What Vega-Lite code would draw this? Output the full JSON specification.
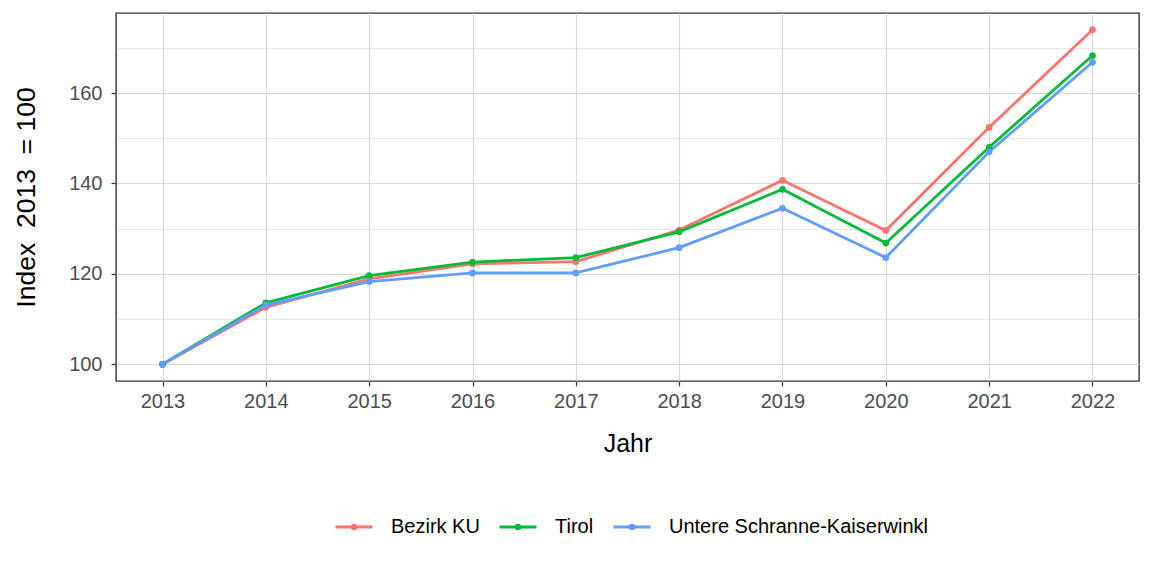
{
  "$schema": "https://vega.github.io/schema/vega-lite/v6.json",
  "width": 1023,
  "height": 368,
  "autosize": {"type": "none"},
  "padding": {"left": 116, "top": 13, "right": 13, "bottom": 195},
  "background": "white",
  "config": {
    "font": "Liberation Sans",
    "view": {"stroke": "#333333", "strokeWidth": 1.4},
    "axis": {"domain": false}
  },
  "data": {
    "values": [
      {"Jahr": 2013, "Region": "Bezirk KU", "Index": 100},
      {"Jahr": 2014, "Region": "Bezirk KU", "Index": 112.6},
      {"Jahr": 2015, "Region": "Bezirk KU", "Index": 118.9},
      {"Jahr": 2016, "Region": "Bezirk KU", "Index": 122.2},
      {"Jahr": 2017, "Region": "Bezirk KU", "Index": 122.7},
      {"Jahr": 2018, "Region": "Bezirk KU", "Index": 129.7},
      {"Jahr": 2019, "Region": "Bezirk KU", "Index": 140.7},
      {"Jahr": 2020, "Region": "Bezirk KU", "Index": 129.6},
      {"Jahr": 2021, "Region": "Bezirk KU", "Index": 152.4},
      {"Jahr": 2022, "Region": "Bezirk KU", "Index": 174.0},
      {"Jahr": 2013, "Region": "Tirol", "Index": 100},
      {"Jahr": 2014, "Region": "Tirol", "Index": 113.6},
      {"Jahr": 2015, "Region": "Tirol", "Index": 119.6},
      {"Jahr": 2016, "Region": "Tirol", "Index": 122.6},
      {"Jahr": 2017, "Region": "Tirol", "Index": 123.6},
      {"Jahr": 2018, "Region": "Tirol", "Index": 129.3},
      {"Jahr": 2019, "Region": "Tirol", "Index": 138.7},
      {"Jahr": 2020, "Region": "Tirol", "Index": 126.8},
      {"Jahr": 2021, "Region": "Tirol", "Index": 148.0},
      {"Jahr": 2022, "Region": "Tirol", "Index": 168.3},
      {"Jahr": 2013, "Region": "Untere Schranne-Kaiserwinkl", "Index": 100},
      {"Jahr": 2014, "Region": "Untere Schranne-Kaiserwinkl", "Index": 113.1},
      {"Jahr": 2015, "Region": "Untere Schranne-Kaiserwinkl", "Index": 118.3},
      {"Jahr": 2016, "Region": "Untere Schranne-Kaiserwinkl", "Index": 120.2},
      {"Jahr": 2017, "Region": "Untere Schranne-Kaiserwinkl", "Index": 120.2},
      {"Jahr": 2018, "Region": "Untere Schranne-Kaiserwinkl", "Index": 125.8},
      {"Jahr": 2019, "Region": "Untere Schranne-Kaiserwinkl", "Index": 134.5},
      {"Jahr": 2020, "Region": "Untere Schranne-Kaiserwinkl", "Index": 123.6},
      {"Jahr": 2021, "Region": "Untere Schranne-Kaiserwinkl", "Index": 147.0},
      {"Jahr": 2022, "Region": "Untere Schranne-Kaiserwinkl", "Index": 166.8}
    ]
  },
  "mark": {"type": "line", "strokeWidth": 2.8, "point": {"filled": true, "size": 45, "opacity": 1}},
  "encoding": {
    "x": {
      "field": "Jahr",
      "type": "quantitative",
      "scale": {"domain": [2012.55, 2022.45], "nice": false, "zero": false},
      "axis": {
        "values": [2013, 2014, 2015, 2016, 2017, 2018, 2019, 2020, 2021, 2022],
        "format": "d",
        "title": "Jahr",
        "titleFontSize": 25,
        "titleFontWeight": "normal",
        "titleColor": "#000000",
        "titlePadding": 20,
        "labelFontSize": 20,
        "labelColor": "#4D4D4D",
        "labelPadding": 5,
        "tickColor": "#333333",
        "tickSize": 5,
        "tickWidth": 1.2,
        "gridColor": "#D6D6D6",
        "gridWidth": 1.1
      }
    },
    "y": {
      "field": "Index",
      "type": "quantitative",
      "scale": {"domain": [96.3, 177.7], "nice": false, "zero": false},
      "axis": {
        "values": [100, 110, 120, 130, 140, 150, 160, 170],
        "labelExpr": "datum.value % 20 == 0 ? datum.label : ''",
        "title": "Index\u00a0 2013\u00a0 = 100",
        "titleFontSize": 26.5,
        "titleFontWeight": "normal",
        "titleColor": "#000000",
        "titlePadding": 28,
        "labelFontSize": 20,
        "labelColor": "#4D4D4D",
        "labelPadding": 9,
        "tickColor": "#333333",
        "tickSize": 5,
        "tickWidth": 1.2,
        "tickOpacity": {"condition": {"test": "datum.value % 20 != 0", "value": 0}, "value": 1},
        "gridColor": "#D6D6D6",
        "gridWidth": {"condition": {"test": "datum.value % 20 != 0", "value": 0.6}, "value": 1.1}
      }
    },
    "color": {
      "field": "Region",
      "type": "nominal",
      "scale": {
        "domain": ["Bezirk KU", "Tirol", "Untere Schranne-Kaiserwinkl"],
        "range": ["#F8766D", "#00BA38", "#619CFF"]
      },
      "legend": {
        "title": null,
        "orient": "none",
        "direction": "horizontal",
        "legendX": 218,
        "legendY": 494,
        "symbolType": "M-1,0H1M-0.1,0A0.1,0.1 0 1,0 0.1,0A0.1,0.1 0 1,0 -0.1,0",
        "symbolSize": 1369,
        "symbolStrokeWidth": 2.8,
        "labelFontSize": 20,
        "labelLimit": 0,
        "labelColor": "#000000",
        "labelOffset": 17,
        "columnPadding": 13
      }
    }
  }
}
